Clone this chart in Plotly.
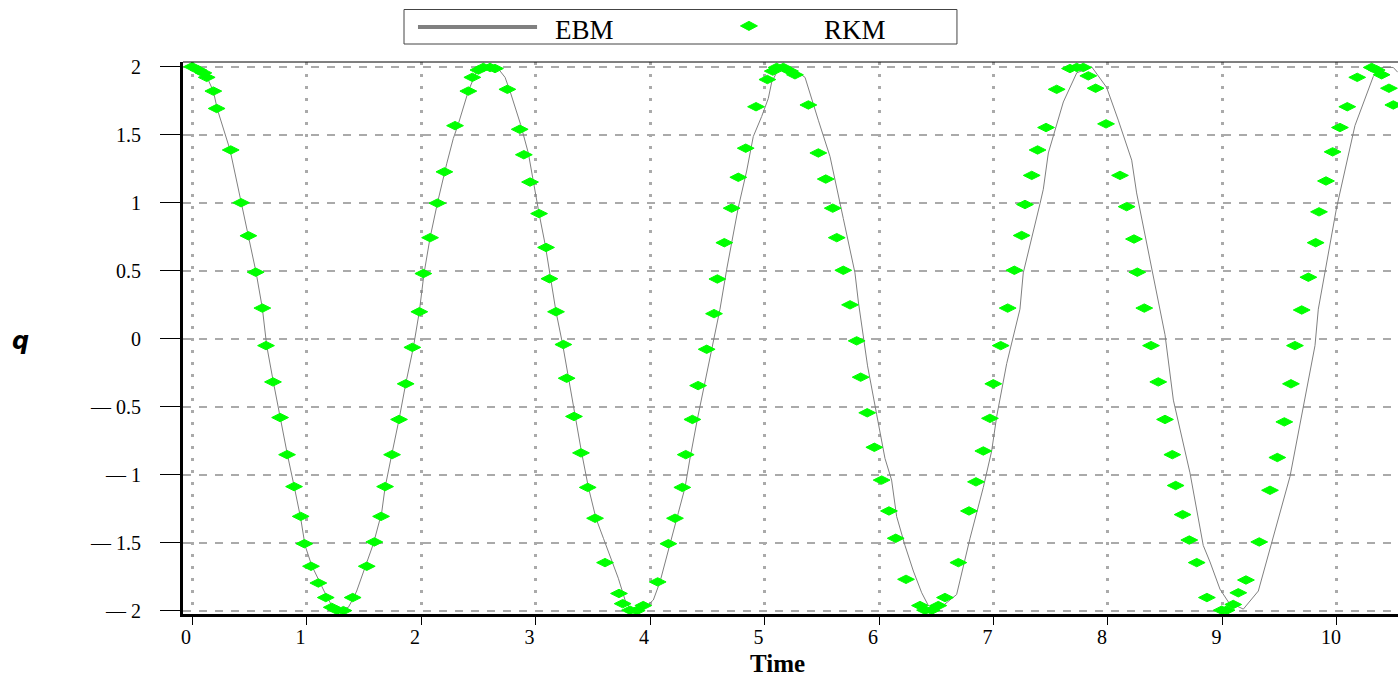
import plotly.graph_objects as go

# ---------------- data ----------------
rkm_t = [0.000, 0.055, 0.099, 0.128, 0.186, 0.215, 0.338, 0.428, 0.492, 0.556,
         0.614, 0.646, 0.707, 0.769, 0.830, 0.891, 0.949, 0.981, 1.039, 1.103,
         1.168, 1.220, 1.264, 1.322, 1.403, 1.526, 1.592, 1.651, 1.686, 1.747,
         1.808, 1.866, 1.924, 1.985, 2.020, 2.079, 2.143, 2.204, 2.297, 2.413,
         2.448, 2.501, 2.544, 2.603, 2.646, 2.754, 2.862, 2.898, 2.952, 3.031,
         3.092, 3.121, 3.179, 3.243, 3.272, 3.336, 3.397, 3.456, 3.520, 3.607,
         3.729, 3.761, 3.825, 3.884, 3.941, 4.067, 4.160, 4.218, 4.282, 4.312,
         4.370, 4.420, 4.495, 4.559, 4.588, 4.649, 4.713, 4.771, 4.836, 4.926,
         5.025, 5.072, 5.106, 5.164, 5.223, 5.266, 5.383, 5.470, 5.535, 5.596,
         5.631, 5.688, 5.747, 5.805, 5.840, 5.897, 5.959, 6.023, 6.087, 6.146,
         6.236, 6.358, 6.402, 6.460, 6.518, 6.576, 6.693, 6.786, 6.847, 6.911,
         6.969, 6.998, 7.063, 7.124, 7.182, 7.246, 7.275, 7.334, 7.385, 7.459,
         7.552, 7.668, 7.727, 7.784, 7.828, 7.892, 7.983, 8.105, 8.163, 8.227,
         8.256, 8.317, 8.376, 8.439, 8.498, 8.562, 8.591, 8.652, 8.710, 8.775,
         8.864, 8.993, 9.036, 9.094, 9.138, 9.205, 9.321, 9.415, 9.479, 9.540,
         9.598, 9.633, 9.692, 9.750, 9.814, 9.843, 9.904, 9.962, 10.026, 10.090,
         10.177, 10.303, 10.347, 10.390, 10.454, 10.492]
rkm_q = [2.000, 1.976, 1.955, 1.922, 1.821, 1.693, 1.388, 1.000, 0.757, 0.489,
         0.225, -0.051, -0.318, -0.580, -0.853, -1.088, -1.307, -1.508, -1.674, -1.797,
         -1.904, -1.976, -1.997, -2.000, -1.904, -1.674, -1.495, -1.307, -1.088, -0.853,
         -0.594, -0.332, -0.064, 0.198, 0.479, 0.743, 0.997, 1.227, 1.567, 1.821,
         1.922, 1.976, 1.995, 1.995, 1.987, 1.834, 1.540, 1.353, 1.152, 0.920,
         0.671, 0.441, 0.198, -0.043, -0.291, -0.572, -0.840, -1.094, -1.321, -1.647,
         -1.874, -1.949, -1.997, -2.000, -1.963, -1.789, -1.508, -1.321, -1.094, -0.853,
         -0.594, -0.345, -0.078, 0.184, 0.439, 0.706, 0.960, 1.187, 1.401, 1.706,
         1.906, 1.968, 1.995, 1.995, 1.968, 1.941, 1.719, 1.366, 1.174, 0.960,
         0.743, 0.503, 0.249, -0.016, -0.283, -0.545, -0.799, -1.040, -1.267, -1.468,
         -1.770, -1.963, -1.997, -1.997, -1.963, -1.904, -1.647, -1.267, -1.053, -0.826,
         -0.586, -0.332, -0.051, 0.225, 0.503, 0.759, 0.987, 1.201, 1.388, 1.553,
         1.834, 1.987, 1.995, 1.995, 1.933, 1.842, 1.580, 1.201, 0.971, 0.733,
         0.489, 0.225, -0.051, -0.318, -0.594, -0.853, -1.080, -1.294, -1.481, -1.647,
         -1.904, -1.997, -1.997, -1.955, -1.869, -1.775, -1.495, -1.115, -0.874, -0.612,
         -0.332, -0.051, 0.211, 0.452, 0.706, 0.933, 1.160, 1.374, 1.553, 1.706,
         1.922, 1.995, 1.976, 1.941, 1.842, 1.719]

ebm_t = [0.000, 0.128, 0.186, 0.221, 0.332, 0.428, 0.492, 0.559, 0.614, 0.652,
         0.710, 0.769, 0.833, 0.894, 0.949, 0.987, 1.045, 1.153, 1.220, 1.278,
         1.365, 1.409, 1.438, 1.511, 1.584, 1.656, 1.686, 1.744, 1.808, 1.866,
         1.933, 1.985, 2.026, 2.079, 2.143, 2.224, 2.282, 2.326, 2.413, 2.486,
         2.544, 2.661, 2.734, 2.777, 2.870, 2.937, 2.981, 3.031, 3.083, 3.127,
         3.179, 3.237, 3.287, 3.345, 3.403, 3.462, 3.528, 3.593, 3.723, 3.782,
         3.840, 3.927, 4.029, 4.087, 4.175, 4.247, 4.306, 4.345, 4.415, 4.480,
         4.547, 4.611, 4.670, 4.713, 4.771, 4.844, 4.902, 4.975, 5.033, 5.063,
         5.130, 5.223, 5.354, 5.470, 5.572, 5.688, 5.790, 5.820, 5.863, 5.900,
         5.980, 6.052, 6.110, 6.154, 6.227, 6.300, 6.373, 6.431, 6.533, 6.678,
         6.795, 6.911, 6.984, 7.028, 7.115, 7.231, 7.260, 7.330, 7.406, 7.435,
         7.479, 7.610, 7.727, 7.857, 7.988, 8.090, 8.207, 8.250, 8.498, 8.571,
         8.716, 8.832, 8.891, 8.978, 9.051, 9.182, 9.313, 9.590, 9.808, 9.837,
         9.997, 10.157, 10.317, 10.390, 10.492, 10.530]
ebm_q = [2.000, 1.928, 1.821, 1.687, 1.388, 1.000, 0.757, 0.489, 0.225, -0.051,
         -0.318, -0.580, -0.853, -1.094, -1.321, -1.521, -1.668, -1.856, -1.963, -2.000,
         -1.976, -1.909, -1.856, -1.682, -1.508, -1.281, -1.094, -0.853, -0.594, -0.332,
         -0.064, 0.198, 0.479, 0.743, 0.997, 1.286, 1.473, 1.580, 1.821, 1.968,
         2.000, 2.000, 1.922, 1.821, 1.575, 1.366, 1.152, 0.920, 0.698, 0.457,
         0.198, -0.043, -0.291, -0.572, -0.840, -1.094, -1.321, -1.468, -1.762, -1.922,
         -2.000, -2.000, -1.922, -1.789, -1.521, -1.281, -1.094, -0.900, -0.586, -0.318,
         -0.024, 0.217, 0.511, 0.698, 0.965, 1.233, 1.487, 1.634, 1.767, 1.888,
         1.995, 2.000, 1.922, 1.607, 1.340, 0.885, 0.484, 0.270, 0.003, -0.200,
         -0.559, -0.880, -1.040, -1.307, -1.521, -1.709, -1.869, -1.963, -1.981, -1.882,
         -1.468, -1.094, -0.826, -0.572, -0.184, 0.217, 0.484, 0.720, 0.992, 1.099,
         1.366, 1.741, 1.955, 2.000, 1.848, 1.607, 1.313, 1.072, 0.029, -0.452,
         -0.987, -1.521, -1.642, -1.842, -1.936, -1.989, -1.856, -1.013, -0.051, 0.217,
         0.965, 1.567, 1.928, 1.995, 1.995, 1.960]

x_ticks = [0, 1, 2, 3, 4, 5, 6, 7, 8, 9, 10]
y_ticks = [-2, -1.5, -1, -0.5, 0, 0.5, 1, 1.5, 2]
y_ticktext = ["\u2014 2", "\u2014 1.5", "\u2014 1", "\u2014 0.5", "0", "0.5", "1", "1.5", "2"]
series_names = ["EBM", "RKM"]

SERIF = "Liberation Serif, Times New Roman, serif"
LINE_GREY = "#808080"
GREEN = "#00ff00"

fig = go.Figure()
fig.add_trace(go.Scatter(
    x=ebm_t, y=ebm_q, name=series_names[0], mode="lines",
    line=dict(color=LINE_GREY, width=1), showlegend=False,
))
fig.add_trace(go.Scatter(
    x=rkm_t, y=rkm_q, name=series_names[1], mode="markers",
    marker=dict(symbol="diamond-wide", size=12, color=GREEN,
                line=dict(color=GREEN, width=1)),
    showlegend=False,
))

# ---- hand-drawn legend box (paper coordinates) ----
leg_y = 1.0634
dx, dy = 0.0070, 0.0082
dcx = 0.4658
legend_shapes = [
    dict(type="rect", xref="paper", yref="paper", x0=0.1819, x1=0.6370,
         y0=1.0326, y1=1.0951, line=dict(color="#444444", width=1),
         fillcolor="white", layer="above"),
    dict(type="line", xref="paper", yref="paper", x0=0.1934, x1=0.2914,
         y0=leg_y, y1=leg_y, line=dict(color=LINE_GREY, width=4)),
    dict(type="path", xref="paper", yref="paper",
         path=f"M {dcx-dx},{leg_y+0.002} L {dcx},{leg_y+0.002+dy} L {dcx+dx},{leg_y+0.002} "
              f"L {dcx},{leg_y+0.002-dy} Z",
         fillcolor=GREEN, line=dict(color=GREEN, width=1)),
]

fig.update_layout(
    width=1398, height=678,
    margin=dict(l=183, r=0, t=62, b=64),
    paper_bgcolor="white", plot_bgcolor="white",
    font=dict(family=SERIF, size=20, color="black"),
    showlegend=False,
    xaxis=dict(
        range=[-0.079, 10.533], tickmode="array", tickvals=x_ticks,
        ticks="outside", ticklen=8, tickwidth=1, tickcolor="black",
        showline=True, linewidth=3, linecolor="black",
        showgrid=True, gridcolor="#aaaaaa", gridwidth=3, griddash="3px,9px",
        zeroline=False, tickfont=dict(family=SERIF, size=20, color="black"),
        ticklabelshift=-6, ticklabelstandoff=-5,
    ),
    yaxis=dict(
        range=[-2.025, 2.035], tickmode="array", tickvals=y_ticks, ticktext=y_ticktext,
        ticks="outside", ticklen=20, tickwidth=1, tickcolor="black",
        showline=True, linewidth=3, linecolor="black",
        showgrid=True, gridcolor="#aaaaaa", gridwidth=2, griddash="8px,8px",
        zeroline=False, tickfont=dict(family=SERIF, size=20, color="black"),
        ticklabelstandoff=15,
    ),
    shapes=[dict(type="line", xref="paper", yref="paper", x0=0, x1=1, y0=1, y1=1,
                 line=dict(color="black", width=1))] + legend_shapes,
    annotations=[
        dict(text=series_names[0], xref="paper", yref="paper", x=0.3045, y=1.0580,
             xanchor="left", yanchor="middle", showarrow=False,
             font=dict(family=SERIF, size=27, color="black")),
        dict(text=series_names[1], xref="paper", yref="paper", x=0.5260, y=1.0580,
             xanchor="left", yanchor="middle", showarrow=False,
             font=dict(family=SERIF, size=27, color="black")),
        dict(text="<b>Time</b>", xref="paper", yref="paper", x=0.489, y=-0.09,
             xanchor="center", yanchor="middle", showarrow=False,
             font=dict(family=SERIF, size=25, color="black")),
        dict(text="<b><i>q</i></b>", xref="paper", yref="paper", x=-0.134, y=0.4946,
             xanchor="center", yanchor="middle", showarrow=False,
             font=dict(family="DejaVu Sans", size=24, color="black")),
    ],
)

fig.write_html("out.html", config={"displayModeBar": False},
               post_script="document.body.style.margin='0px';")
